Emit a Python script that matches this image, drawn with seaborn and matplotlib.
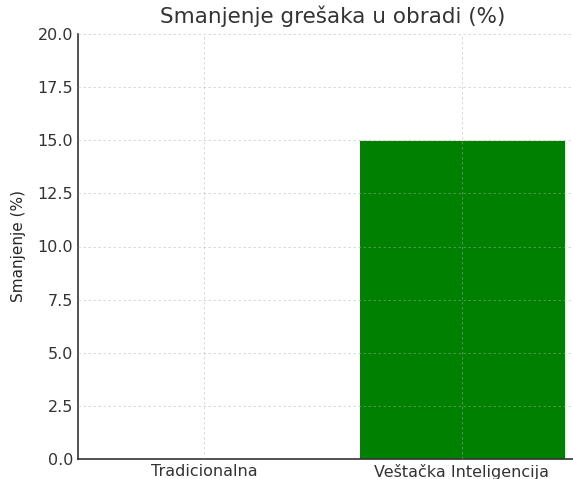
import pandas as pd
import numpy as np
import matplotlib.pyplot as plt
import seaborn as sns

# ===== DONNÉES =====
kategorije = ['Tradicionalna', 'Veštačka Inteligencija']
smanjenje = [0, 15]
y_ticks = [0.0, 2.5, 5.0, 7.5, 10.0, 12.5, 15.0, 17.5, 20.0]

df = pd.DataFrame({'kategorija': kategorije, 'smanjenje': smanjenje})

sns.set_style("whitegrid", {'axes.edgecolor': '#333333', 'text.color': '#333333',
                            'xtick.color': '#333333', 'ytick.color': '#333333'})
plt.rcParams['font.family'] = ['DejaVu Sans']

fig = plt.figure(figsize=(5.73, 4.79), dpi=100)
ax = fig.add_axes([78 / 573, 20 / 479, 510 / 573, 425 / 479])

sns.barplot(data=df, x='kategorija', y='smanjenje', color='green', saturation=1,
            width=0.8, edgecolor='white', linewidth=0.6, ax=ax, zorder=1)

ax.set_xlim(-0.49, 1.49)
ax.set_ylim(0, 20)
ax.set_yticks(y_ticks)
ax.set_yticklabels([f'{v:.1f}' for v in y_ticks])
ax.set_xlabel('')
ax.set_ylabel('Smanjenje (%)', fontsize=11, labelpad=8)
ax.tick_params(axis='both', labelsize=11.5, direction='in', length=4, width=1)
ax.set_axisbelow(False)
ax.grid(True, linestyle=(0, (3, 3)), color='#b0b0b0', alpha=0.55, linewidth=0.6, zorder=3)
for s in ['top', 'right']:
    ax.spines[s].set_visible(False)
for s in ['left', 'bottom']:
    ax.spines[s].set_linewidth(1.2)

ax.set_title('Smanjenje grešaka u obradi (%)', fontsize=15.5, color='#333333', pad=8)

plt.savefig('out.png', dpi=100)
